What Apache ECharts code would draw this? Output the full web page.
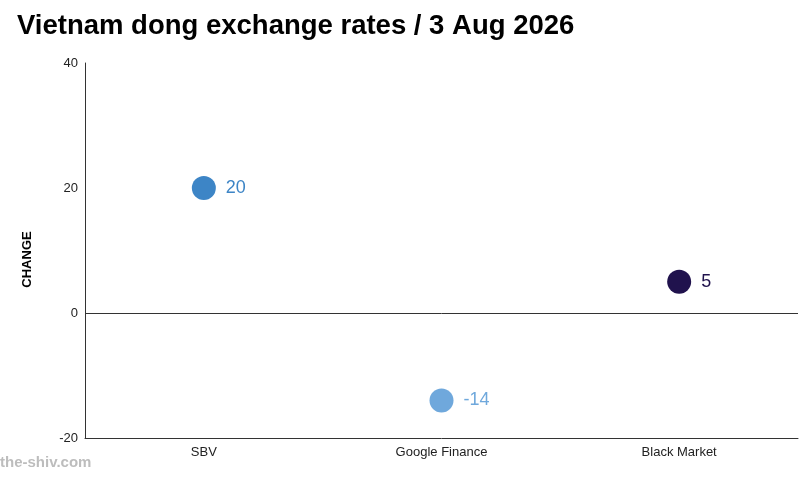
<!DOCTYPE html>
<html>
<head>
<meta charset="utf-8">
<script src="https://cdn.jsdelivr.net/npm/echarts@6/dist/echarts.min.js"></script>
<style>
  html, body { margin: 0; padding: 0; background: #fff; }
  #main { width: 810px; height: 478px; }
</style>
</head>
<body>
<div id="main"></div>
<script>
// sources and their change values
var sources = ['SBV', 'Google Finance', 'Black Market'];
var changes = [20, -14, 5];
var pointColors = ['#3d85c6', '#6fa8dc', '#20124d'];
var yTicks = { min: -20, max: 40, interval: 20 };

var myChart = echarts.init(document.getElementById('main'));

var pointData = [];
for (var i = 0; i < sources.length; i++) {
    pointData.push({
        value: [sources[i], changes[i]],
        itemStyle: { color: pointColors[i], opacity: 1 },
        label: { color: pointColors[i] }
    });
}

var option = {
    backgroundColor: '#fff',
    animation: false,
    textStyle: { fontFamily: 'Liberation Sans, Arial, sans-serif' },
    title: {
        text: 'Vietnam dong exchange rates / 3 Aug 2026',
        left: 12,
        top: 7,
        textStyle: { fontSize: 27.5, fontWeight: 'bold', color: '#000' }
    },
    graphic: [{
        type: 'text',
        left: 0,
        top: 455,
        style: {
            text: 'the-shiv.com',
            fill: '#bdbdbd',
            font: 'bold 15px Liberation Sans, Arial, sans-serif'
        }
    }],
    grid: { left: 85, right: 12, top: 63, bottom: 40 },
    xAxis: {
        type: 'category',
        data: sources,
        axisLine: { onZero: false, lineStyle: { color: '#333', width: 1 } },
        axisTick: { alignWithLabel: true, inside: true, length: 6, lineStyle: { color: '#666' } },
        axisLabel: { color: '#222', fontSize: 13, margin: 8 },
        splitLine: { show: false }
    },
    yAxis: {
        type: 'value',
        min: yTicks.min,
        max: yTicks.max,
        interval: yTicks.interval,
        name: 'CHANGE',
        nameLocation: 'middle',
        nameGap: 51,
        nameTextStyle: { fontWeight: 'bold', fontSize: 13, color: '#000', padding: [0, 18, 0, 0] },
        axisLine: { show: true, lineStyle: { color: '#333', width: 1 } },
        axisTick: { show: false },
        axisLabel: { color: '#222', fontSize: 13, margin: 7 },
        splitLine: { show: false }
    },
    series: [{
        type: 'scatter',
        symbolSize: 24,
        data: pointData,
        label: {
            show: true,
            position: 'right',
            distance: 10,
            fontSize: 18,
            formatter: function(p) { return p.value[1]; }
        },
        markLine: {
            silent: true,
            symbol: 'none',
            label: { show: false },
            lineStyle: { color: '#333', width: 1, type: 'solid' },
            data: [{ yAxis: 0 }]
        }
    }]
};

myChart.setOption(option);
</script>
</body>
</html>
